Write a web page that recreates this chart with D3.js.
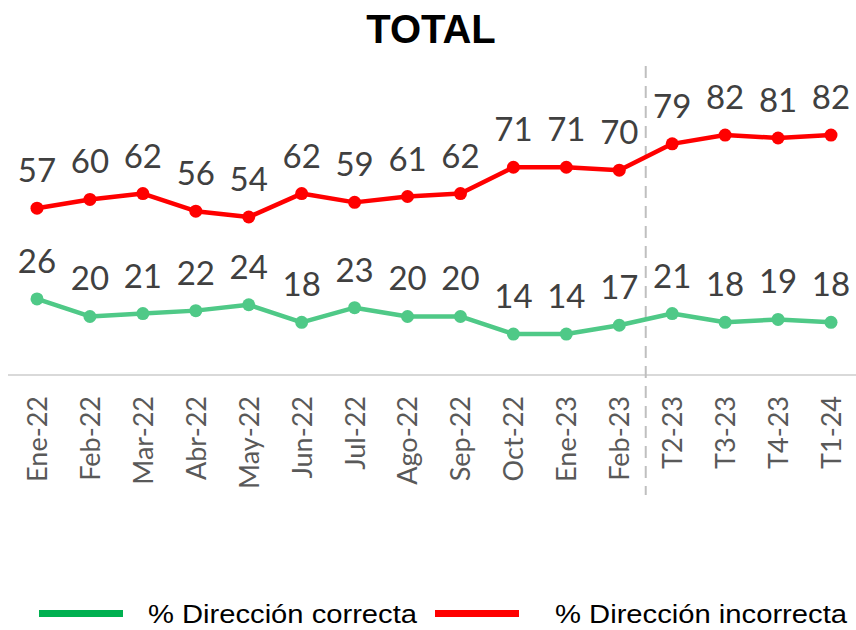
<!DOCTYPE html>
<html>
<head>
<meta charset="utf-8">
<script src="https://cdn.jsdelivr.net/npm/d3@7"></script>
<style>
  body { margin: 0; background: #fff; }
  svg { display: block; }
</style>
</head>
<body>
<div id="chart"></div>
<script>
const width = 856, height = 630;

const categories = ["Ene-22", "Feb-22", "Mar-22", "Abr-22", "May-22", "Jun-22", "Jul-22", "Ago-22",
  "Sep-22", "Oct-22", "Ene-23", "Feb-23", "T2-23", "T3-23", "T4-23", "T1-24"];
const correcta = [26, 20, 21, 22, 24, 18, 23, 20, 20, 14, 14, 17, 21, 18, 19, 18];
const incorrecta = [57, 60, 62, 56, 54, 62, 59, 61, 62, 71, 71, 70, 79, 82, 81, 82];

const series = [
  { name: "% Dirección correcta", values: correcta, color: "#4fc987", legend: "#00b050" },
  { name: "% Dirección incorrecta", values: incorrecta, color: "#ff0000", legend: "#ff0000" }
];

const svg = d3.select("#chart").append("svg")
  .attr("width", width)
  .attr("height", height);

const x = d3.scalePoint()
  .domain(categories)
  .range([37, 831]);

const y = d3.scaleLinear()
  .domain([0, 100])
  .range([375, 82.4]);

// title
svg.append("text")
  .attr("x", 431)
  .attr("y", 43)
  .attr("text-anchor", "middle")
  .style("font", "bold 40px 'Liberation Sans', Arial, sans-serif")
  .style("fill", "#000")
  .text("TOTAL");

// x axis
const xAxis = svg.append("g")
  .attr("transform", `translate(0,${y(0)})`)
  .call(d3.axisBottom(x).tickSize(0).tickPadding(0));
xAxis.select(".domain").remove();
xAxis.append("line")
  .attr("x1", 8).attr("x2", width)
  .attr("stroke", "#d9d9d9")
  .attr("stroke-width", 2);
xAxis.selectAll(".tick text")
  .attr("transform", "rotate(-90)")
  .attr("x", -21)
  .attr("y", 0)
  .attr("dy", "0.35em")
  .attr("text-anchor", "end")
  .style("font", "27px Lato, sans-serif")
  .style("fill", "#595959");

// separator between monthly and quarterly
const sepX = (x("Feb-23") + x("T2-23")) / 2;
svg.append("line")
  .attr("x1", sepX).attr("x2", sepX)
  .attr("y1", 66).attr("y2", 495)
  .attr("stroke", "#bfbfbf")
  .attr("stroke-width", 2)
  .attr("stroke-dasharray", "12,8");

const line = d3.line()
  .x((d, i) => x(categories[i]))
  .y(d => y(d));

series.forEach(s => {
  const g = svg.append("g");
  g.append("path")
    .datum(s.values)
    .attr("fill", "none")
    .attr("stroke", s.color)
    .attr("stroke-width", 4.5)
    .attr("stroke-linejoin", "round")
    .attr("d", line);

  g.selectAll("circle")
    .data(s.values)
    .join("circle")
    .attr("cx", (d, i) => x(categories[i]))
    .attr("cy", d => y(d))
    .attr("r", 6.5)
    .attr("fill", s.color);

  g.selectAll("text")
    .data(s.values)
    .join("text")
    .attr("x", (d, i) => x(categories[i]))
    .attr("y", d => y(d) - 26)
    .attr("text-anchor", "middle")
    .style("font", "33px Lato, sans-serif")
    .style("fill", "#404040")
    .text(d => d);
});

// legend
const legendPos = [{ x: 39, tx: 148, tw: 269 }, { x: 435, tx: 555, tw: 292 }];
series.forEach((s, i) => {
  const p = legendPos[i];
  svg.append("line")
    .attr("x1", p.x).attr("x2", p.x + 84)
    .attr("y1", 613.5).attr("y2", 613.5)
    .attr("stroke", s.legend)
    .attr("stroke-width", 7);
  svg.append("text")
    .attr("x", p.tx)
    .attr("y", 623)
    .attr("textLength", p.tw)
    .attr("lengthAdjust", "spacingAndGlyphs")
    .style("font", "25px 'Liberation Sans Narrow', 'Liberation Sans', Arial, sans-serif")
    .style("fill", "#000")
    .text(s.name);
});
</script>
</body>
</html>
